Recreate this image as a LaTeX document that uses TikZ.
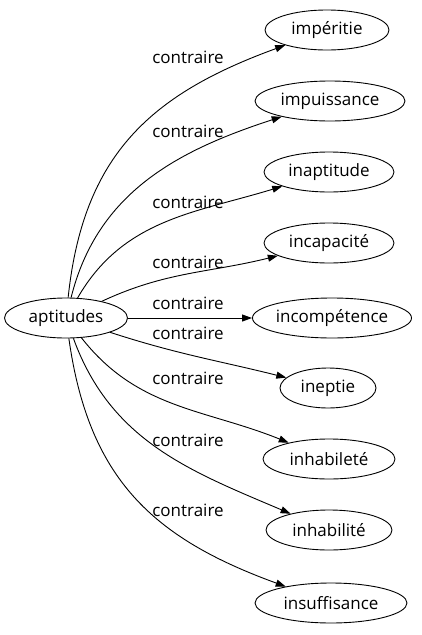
\documentclass[tikz,border=0pt]{standalone}
\usepackage{fontspec}
\setmainfont{Open Sans}
\usetikzlibrary{arrows.meta,shapes.geometric}
\tikzset{
wordnode/.style={draw, ellipse, line width=0.9pt, inner sep=0pt, minimum height=40pt,
  font=\fontsize{17}{18}\selectfont},
relarrow/.style={-{Triangle[length=10pt,width=7pt]}, line width=0.9pt},
rellabel/.style={font=\fontsize{17}{18}\selectfont, inner sep=0pt}
}
\begin{document}
\begin{tikzpicture}[x=1pt,y=-1pt]
\useasboundingbox (0,0) rectangle (422,635);
\node[wordnode, minimum width=123pt] (apt) at (66,318) {aptitudes};
\node[wordnode, minimum width=124pt] (imper) at (327,30) {impéritie};
\node[wordnode, minimum width=150pt] (impuis) at (330,101) {impuissance};
\node[wordnode, minimum width=130pt] (inapt) at (329,172) {inaptitude};
\node[wordnode, minimum width=130pt] (incap) at (329,243) {incapacité};
\node[wordnode, minimum width=158pt] (incomp) at (332,318) {incompétence};
\node[wordnode, minimum width=96pt] (inept) at (328,388) {ineptie};
\node[wordnode, minimum width=132pt] (inhabe) at (329,459) {inhabileté};
\node[wordnode, minimum width=126pt] (inhabi) at (329,530) {inhabilité};
\node[wordnode, minimum width=152pt] (insuf) at (331,603) {insuffisance};

% edges
\draw[relarrow] (apt) to[out=84, in=200, looseness=1.1] (imper);
\draw[relarrow] (apt) to[out=76, in=198] (impuis);
\draw[relarrow] (apt) to[out=60, in=197] (inapt);
\draw[relarrow] (apt) to[out=25, in=194] (incap);
\draw[relarrow] (apt) -- (incomp);
\draw[relarrow] (apt) to[out=-18, in=166] (inept);
\draw[relarrow] (apt) to[out=-52, in=158] (inhabe);
\draw[relarrow] (apt) to[out=-70, in=157] (inhabi);
\draw[relarrow] (apt) to[out=-82, in=160, looseness=1.1] (insuf);

% labels
\node[rellabel] (l1) at (188,57) {contraire};
\node[rellabel] (l2) at (188,131) {contraire};
\node[rellabel] (l3) at (188,202) {contraire};
\node[rellabel] (l4) at (188,262) {contraire};
\node[rellabel] (l5) at (188,303) {contraire};
\node[rellabel] (l6) at (188,333) {contraire};
\node[rellabel] (l7) at (188,378) {contraire};
\node[rellabel] (l8) at (188,440) {contraire};
\node[rellabel] (l9) at (188,510) {contraire};
\end{tikzpicture}
\end{document}
